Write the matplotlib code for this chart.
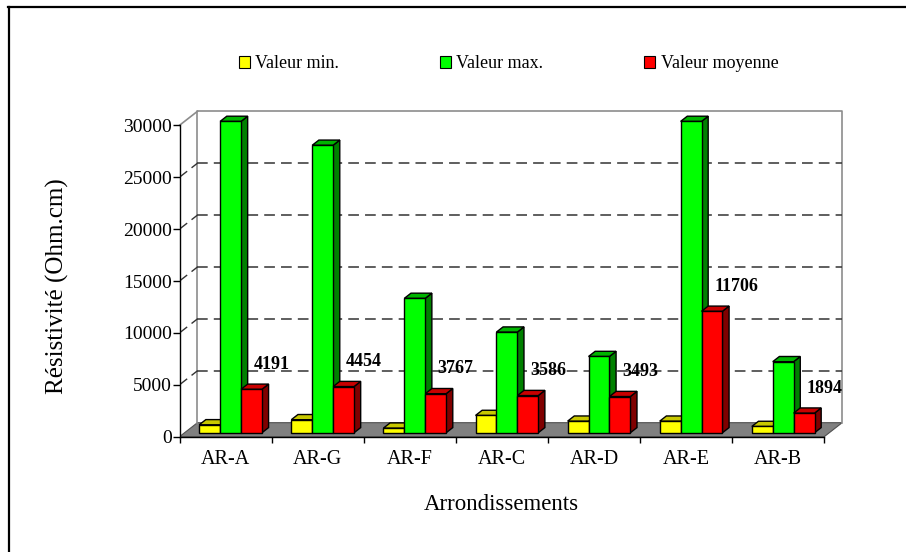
import matplotlib
matplotlib.use('Agg')
import matplotlib.pyplot as plt
from matplotlib.patches import Polygon, Rectangle
from matplotlib.lines import Line2D

categories = ['AR-A', 'AR-G', 'AR-F', 'AR-C', 'AR-D', 'AR-E', 'AR-B']
val_min = [770, 1260, 450, 1670, 1120, 1120, 610]
val_max = [30000, 27700, 12950, 9700, 7350, 30000, 6850]
val_moy = [4191, 4454, 3767, 3586, 3493, 11706, 1894]
series_names = ['Valeur min.', 'Valeur max.', 'Valeur moyenne']
yticks = [0, 5000, 10000, 15000, 20000, 25000, 30000]

# front / top / side colours of each series
colors = [('#ffff00', '#c8c800', '#a0a000'),
          ('#00ff00', '#00b400', '#008000'),
          ('#ff0000', '#c80000', '#800000')]

plt.rcParams['font.family'] = 'Liberation Serif'

W, H = 906, 552
fig = plt.figure(figsize=(W / 100, H / 100), dpi=100)

# fake 3D: depth shifts things right (DX categories) and up (DY values)
DX = 0.195
DY = 1350
YMAX = 30000
n = len(categories)
d0, d1 = 0.28, 0.65      # depth of bar front / back
bw = 0.227               # bar width in category units

ax = fig.add_axes([179.5 / W, 1 - 436.7 / H, (n + DX) * 92.1 / W, (436.7 - 111.3) / H])
ax.set_xlim(0, n + DX)
ax.set_ylim(0, YMAX + DY)

# floor
ax.add_patch(Polygon([(0, 0), (n, 0), (n + DX, DY), (DX, DY)], closed=True,
                     facecolor='#808080', edgecolor='#505050', lw=0.8, zorder=1))
# back wall frame
wall = '#8c8c8c'
ax.plot([DX, DX, n + DX, n + DX], [DY, YMAX + DY, YMAX + DY, DY], color=wall, lw=1.2, zorder=1,
        clip_on=False)
ax.plot([0, DX], [YMAX, YMAX + DY], color=wall, lw=1.2, zorder=1, clip_on=False)

# dashed gridlines on the back wall + stub on the side wall
for t in yticks[1:-1]:
    ax.plot([DX, n + DX], [t + DY, t + DY], color='#333333', lw=1.1,
            dashes=(7, 4), zorder=1)
    ax.plot([0, DX], [t, t + DY], color='#333333', lw=1.0, dashes=(7, 4), zorder=1)

series = [val_min, val_max, val_moy]
for i in range(n):
    for j, vals in enumerate(series):
        v = vals[i]
        x0 = i + 0.5 - 1.5 * bw + j * bw
        x1 = x0 + bw
        fc, tc, sc = colors[j]
        side = [(x1 + d0 * DX, d0 * DY), (x1 + d1 * DX, d1 * DY),
                (x1 + d1 * DX, v + d1 * DY), (x1 + d0 * DX, v + d0 * DY)]
        top = [(x0 + d0 * DX, v + d0 * DY), (x1 + d0 * DX, v + d0 * DY),
               (x1 + d1 * DX, v + d1 * DY), (x0 + d1 * DX, v + d1 * DY)]
        front = [(x0 + d0 * DX, d0 * DY), (x1 + d0 * DX, d0 * DY),
                 (x1 + d0 * DX, v + d0 * DY), (x0 + d0 * DX, v + d0 * DY)]
        for poly, c in [(side, sc), (top, tc), (front, fc)]:
            ax.add_patch(Polygon(poly, closed=True, facecolor=c, edgecolor='black',
                                 lw=1.0, joinstyle='miter', zorder=3, clip_on=False))
        if j == 2:
            ax.annotate(str(v), xy=(x0 + d0 * DX, v + d0 * DY), xytext=(9.0, 18),
                        textcoords='offset points', ha='left', va='center',
                        fontsize=13, fontweight='bold', zorder=6)

# axes
for s in ['top', 'right']:
    ax.spines[s].set_visible(False)
ax.spines['left'].set_bounds(0, YMAX)
ax.spines['bottom'].set_bounds(0, n)
for s in ['left', 'bottom']:
    ax.spines[s].set_linewidth(1.0)
    ax.spines[s].set_zorder(4)

ax.set_yticks(yticks)
ax.set_yticklabels([str(t) for t in yticks], fontsize=14)
ax.tick_params(axis='y', direction='out', length=5, width=1, pad=0.5)

ax.set_xticks(range(n + 1))
ax.set_xticklabels([])
ax.set_xticks([i + 0.5 for i in range(n)], minor=True)
ax.set_xticklabels(categories, minor=True, fontsize=14.5)
ax.tick_params(axis='x', which='major', direction='out', length=4.5, width=1)
ax.tick_params(axis='x', which='minor', length=0, pad=9.5)

fig.text(57 / W, 1 - 286 / H, 'Résistivité (Ohm.cm)', rotation=90,
         ha='center', va='center', fontsize=18)
fig.text(501 / W, 1 - 505 / H, 'Arrondissements', ha='center', va='center', fontsize=16.5)

handles = [Rectangle((0, 0), 1, 1, facecolor=colors[k][0], edgecolor='black', lw=0.8)
           for k in range(3)]
fig.legend(handles, series_names, loc='center', bbox_to_anchor=(508.5 / W, 1 - 63.7 / H),
           ncol=3, frameon=False, fontsize=13, handlelength=0.6, handleheight=0.6,
           handletextpad=0.3, columnspacing=5.6)

# outer frame (only top and left edges visible in the picture)
fig.add_artist(Line2D([8 / W, 1], [1 - 7 / H, 1 - 7 / H], color='black', lw=1.6))
fig.add_artist(Line2D([9 / W, 9 / W], [0, 1 - 7 / H], color='black', lw=1.6))

fig.savefig('out.png', dpi=100)
